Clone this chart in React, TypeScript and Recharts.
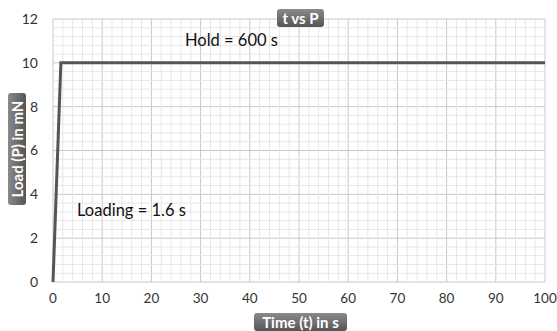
import { LineChart, Line, XAxis, YAxis, CartesianGrid, ReferenceLine } from 'recharts';

const timeValues = [0, 1.6, 100];
const loadValues = [0, 10, 10];
const xTicks = [0, 10, 20, 30, 40, 50, 60, 70, 80, 90, 100];
const yTicks = [0, 2, 4, 6, 8, 10, 12];

const data = timeValues.map((t, i) => ({ t, p: loadValues[i] }));

// minor grid: 5 divisions per major step
const xMinor = Array.from({ length: 51 }, (_, i) => i * 2).filter((v) => v % 10 !== 0);
const yMinor = Array.from({ length: 31 }, (_, i) => Math.round(i * 4) / 10).filter((v) => Math.round(v * 10) % 20 !== 0);

const font = 'Lato, "Open Sans", sans-serif';

const boxStyle: React.CSSProperties = {
    position: 'absolute',
    background: 'linear-gradient(#8a8a8a, #555)',
    color: '#fff',
    fontFamily: font,
    fontWeight: 700,
    fontSize: 15,
    borderRadius: 3,
    textAlign: 'center',
    lineHeight: '18px',
    whiteSpace: 'nowrap',
};

export default function App() {
    return (
        <div style={{ position: 'absolute', left: 0, top: 0, width: 557, height: 331, background: '#fff' }}>
            <LineChart width={557} height={331} data={data} margin={{ top: 19, right: 12, bottom: 0, left: 0 }}>
                {xMinor.map((v) => (
                    <ReferenceLine key={'x' + v} x={v} stroke="#e6e6e6" strokeWidth={1} />
                ))}
                {yMinor.map((v) => (
                    <ReferenceLine key={'y' + v} y={v} stroke="#e6e6e6" strokeWidth={1} />
                ))}
                <CartesianGrid stroke="#c8c8c8" />
                <XAxis
                    dataKey="t"
                    type="number"
                    domain={[0, 100]}
                    ticks={xTicks}
                    axisLine={false}
                    tickLine={false}
                    tickMargin={5}
                    height={49}
                    tick={{ fill: '#333', fontSize: 13.5, fontFamily: font }}
                />
                <YAxis
                    type="number"
                    domain={[0, 12]}
                    ticks={yTicks}
                    axisLine={false}
                    tickLine={false}
                    tickMargin={9}
                    width={53}
                    tick={{ fill: '#333', fontSize: 14, fontFamily: font }}
                />
                <Line
                    dataKey="p"
                    stroke="#555"
                    strokeWidth={3}
                    dot={false}
                    isAnimationActive={false}
                />
            </LineChart>
            <div style={{ ...boxStyle, left: 277, top: 9, width: 47, height: 18 }}>t vs P</div>
            <div style={{ ...boxStyle, left: 254, top: 313, width: 93, height: 18 }}>Time (t) in s</div>
            <div
                style={{
                    ...boxStyle,
                    left: 17 - 56,
                    top: 149 - 9,
                    width: 112,
                    height: 18,
                    transform: 'rotate(-90deg)',
                }}
            >
                Load (P) in mN
            </div>
            <div style={{ position: 'absolute', left: 185, top: 30, fontFamily: font, fontSize: 16.5, color: '#111' }}>
                Hold = 600 s
            </div>
            <div style={{ position: 'absolute', left: 77, top: 200, fontFamily: font, fontSize: 16.5, color: '#111' }}>
                Loading = 1.6 s
            </div>
        </div>
    );
}
